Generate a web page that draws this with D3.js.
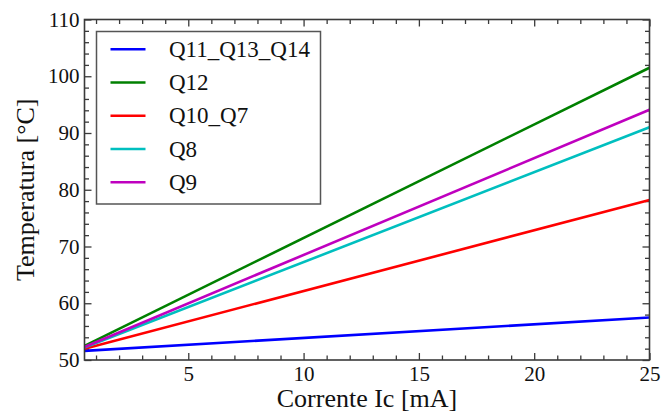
<!DOCTYPE html>
<html>
<head>
<meta charset="utf-8">
<script src="https://cdn.jsdelivr.net/npm/d3@7/dist/d3.min.js"></script>
</head>
<body style="margin:0;background:#fff">
<svg id="chart" width="672" height="414"></svg>
<script>
// Collector current (mA) sampled at the ends of each straight characteristic
const currents = [0.5, 25];

// Junction temperature (°C) per transistor group
const seriesNames = ["Q11_Q13_Q14", "Q12", "Q10_Q7", "Q8", "Q9"];
const tempQ11_Q13_Q14 = [51.6, 57.5];
const tempQ12 = [52.5, 101.5];
const tempQ10_Q7 = [52.0, 78.2];
const tempQ8 = [52.2, 91.0];
const tempQ9 = [52.3, 94.1];
const seriesColors = ["#0000ff", "#008000", "#ff0000", "#00bfbf", "#bf00bf"];

const xMajorTicks = [5, 10, 15, 20, 25];
const yMajorTicks = [50, 60, 70, 80, 90, 100, 110];

const xTitle = "Corrente Ic [mA]";
const yTitle = "Temperatura [°C]";

const FONT = "Liberation Serif";
const TEXT_COLOR = "#111";

const series = [tempQ11_Q13_Q14, tempQ12, tempQ10_Q7, tempQ8, tempQ9].map((vals, i) => ({
  name: seriesNames[i],
  color: seriesColors[i],
  points: vals.map((t, j) => ({ x: currents[j], y: t }))
}));

const svg = d3.select("#chart");
const plot = { left: 84.5, right: 649.5, top: 19.5, bottom: 360 };

const x = d3.scaleLinear().domain([0.5, 25]).range([plot.left, plot.right]);
const y = d3.scaleLinear().domain([50, 110]).range([plot.bottom, plot.top]);

const axisColor = "#3a3a3a";
const majorLen = 7, minorLen = 4.5;
const tickFont = 21;

const xMinor = d3.range(1, 26).filter(v => v % 5 !== 0);
const yMinor = d3.range(52, 110, 2).filter(v => v % 10 !== 0);

function drawAxis(gen, transform) {
  const g = svg.append("g").attr("transform", transform).call(gen)
    .attr("font-family", FONT).attr("font-size", tickFont);
  g.select(".domain").remove();
  g.selectAll(".tick line").attr("stroke", axisColor).attr("stroke-width", 1.3);
  g.selectAll(".tick text")
    .attr("font-family", FONT)
    .attr("font-size", tickFont)
    .attr("fill", TEXT_COLOR);
  return g;
}

// Bottom axis with labels, plus minor ticks
drawAxis(
  d3.axisBottom(x).tickValues(xMajorTicks).tickSize(-majorLen).tickPadding(6).tickFormat(d3.format("d")),
  `translate(0,${plot.bottom})`
);
drawAxis(d3.axisBottom(x).tickValues(xMinor).tickSize(-minorLen).tickFormat(""), `translate(0,${plot.bottom})`);
// Top mirrored ticks
drawAxis(d3.axisTop(x).tickValues(xMajorTicks).tickSize(-majorLen).tickFormat(""), `translate(0,${plot.top})`);
drawAxis(d3.axisTop(x).tickValues(xMinor).tickSize(-minorLen).tickFormat(""), `translate(0,${plot.top})`);

// Left axis with labels, plus minor ticks
drawAxis(
  d3.axisLeft(y).tickValues(yMajorTicks).tickSize(-majorLen).tickPadding(5).tickFormat(d3.format("d")),
  `translate(${plot.left},0)`
);
drawAxis(d3.axisLeft(y).tickValues(yMinor).tickSize(-minorLen).tickFormat(""), `translate(${plot.left},0)`);
// Right mirrored ticks
drawAxis(d3.axisRight(y).tickValues(yMajorTicks).tickSize(-majorLen).tickFormat(""), `translate(${plot.right},0)`);
drawAxis(d3.axisRight(y).tickValues(yMinor).tickSize(-minorLen).tickFormat(""), `translate(${plot.right},0)`);

// Data lines
const line = d3.line().x(d => x(d.x)).y(d => y(d.y));
svg.append("g").selectAll("path").data(series).join("path")
  .attr("d", d => line(d.points))
  .attr("fill", "none")
  .attr("stroke", d => d.color)
  .attr("stroke-width", 2.6);

// Plot frame
svg.append("rect")
  .attr("x", plot.left).attr("y", plot.top)
  .attr("width", plot.right - plot.left).attr("height", plot.bottom - plot.top)
  .attr("fill", "none").attr("stroke", axisColor).attr("stroke-width", 1.6);

// Axis titles
svg.append("text")
  .attr("x", (plot.left + plot.right) / 2).attr("y", 407)
  .attr("text-anchor", "middle")
  .attr("font-family", FONT).attr("font-size", 26)
  .attr("fill", TEXT_COLOR)
  .text(xTitle);
svg.append("text")
  .attr("transform", `translate(34,${(plot.top + plot.bottom) / 2}) rotate(-90)`)
  .attr("text-anchor", "middle")
  .attr("font-family", FONT).attr("font-size", 26)
  .attr("fill", TEXT_COLOR)
  .text(yTitle);

// Legend
const legend = svg.append("g");
legend.append("rect")
  .attr("x", 96.5).attr("y", 31.5).attr("width", 224).attr("height", 172.5)
  .attr("fill", "#fff").attr("stroke", "#555").attr("stroke-width", 1.5);
const rowY = d3.scalePoint().domain(seriesNames).range([49.3, 182.3]);
const rows = legend.selectAll("g.row").data(series).join("g").attr("class", "row")
  .attr("transform", d => `translate(0,${rowY(d.name)})`);
rows.append("line")
  .attr("x1", 110.5).attr("x2", 145.5)
  .attr("stroke", d => d.color).attr("stroke-width", 2.6);
rows.append("text")
  .attr("x", 169).attr("dy", "0.33em")
  .attr("font-family", FONT).attr("font-size", 23)
  .attr("fill", TEXT_COLOR)
  .text(d => d.name);
</script>
</body>
</html>
